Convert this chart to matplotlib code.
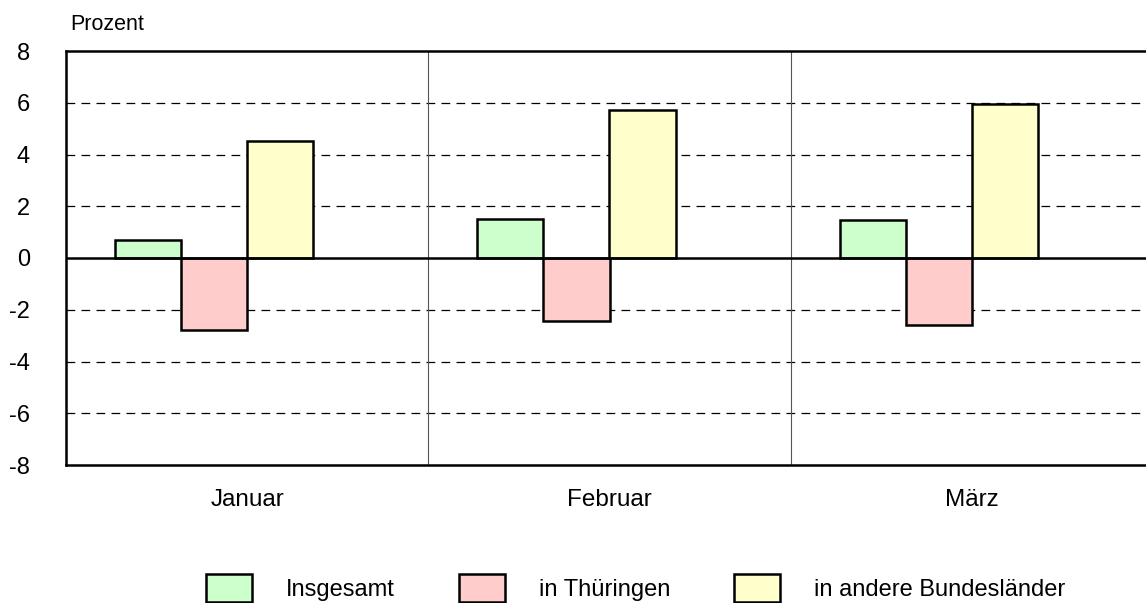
import matplotlib
matplotlib.use('Agg')
import matplotlib.pyplot as plt
import numpy as np

plt.rcParams['font.family'] = ['Liberation Sans', 'DejaVu Sans']

months = ['Januar', 'Februar', 'März']
series = ['Insgesamt', 'in Thüringen', 'in andere Bundesländer']
insgesamt = [0.7, 1.5, 1.47]
thueringen = [-2.78, -2.43, -2.59]
andere = [4.52, 5.71, 5.95]
colors = ['#CCFFCC', '#FFCCCC', '#FFFFCC']
yticks = [-8, -6, -4, -2, 0, 2, 4, 6, 8]

fig = plt.figure(figsize=(11.46, 6.03), dpi=100)
# right edge runs slightly past the picture, as in the reference
ax = fig.add_axes([66/1146, 1 - 465/603, 1087/1146, 414/603])

x = np.arange(len(months))
w = 66/362
values = [insgesamt, thueringen, andere]
# four slots per group, the last one left empty
offsets = [-1.5, -0.5, 0.5]
handles = []
for vals, off, col, name in zip(values, offsets, colors, series):
    b = ax.bar(x + off*w, vals, width=w, color=col, edgecolor='black',
               linewidth=1.8, label=name, zorder=3)
    handles.append(b)

ax.set_xlim(-0.5, 2.5)
ax.set_ylim(-8, 8)
ax.set_yticks(yticks)
ax.set_yticklabels([str(t) for t in yticks], fontsize=17)
ax.set_xticks(x)
ax.set_xticklabels(months, fontsize=17.5)
ax.tick_params(axis='y', length=0, pad=26)
ax.tick_params(axis='x', length=0, pad=17)

for t in yticks:
    if t in (-8, 0, 8):
        continue
    ax.axhline(t, color='black', linestyle=(0, (7, 5)), linewidth=0.9, zorder=1)
ax.axhline(0, color='black', linewidth=1.8, zorder=4)
for s in [0.5, 1.5]:
    ax.axvline(s, color='#555555', linewidth=0.8, zorder=1)

for sp in ax.spines.values():
    sp.set_linewidth(1.8)

fig.text(70/1146, 1 - 24/603, 'Prozent', fontsize=15.5, va='center', ha='left')

fig.legend(handles=handles, labels=series, loc='center', ncol=3,
           bbox_to_anchor=(0.5545, 1 - 588/603), frameon=False, fontsize=17,
           handlelength=1.95, handleheight=1.5, handletextpad=1.44,
           columnspacing=2.7, borderpad=0.2)

fig.savefig('out.png', dpi=100)
